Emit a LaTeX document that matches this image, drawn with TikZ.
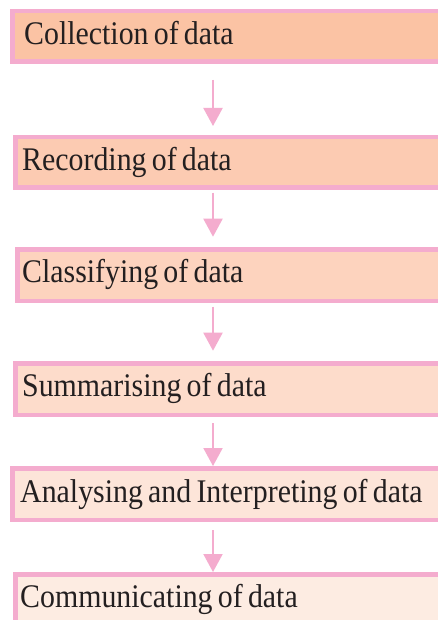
\documentclass[tikz,border=0pt]{standalone}
\usepackage{fontspec}
\setmainfont[FakeStretch=0.905,WordSpace=0.7]{Liberation Serif}
\usetikzlibrary{arrows.meta}
\definecolor{pinkline}{HTML}{F4ACCE}
\definecolor{fA}{HTML}{FBC3A4}
\definecolor{fB}{HTML}{FCCBB2}
\definecolor{fC}{HTML}{FDD3BE}
\definecolor{fD}{HTML}{FDDCCB}
\definecolor{fE}{HTML}{FDE5D9}
\definecolor{fF}{HTML}{FDECE2}
\definecolor{ink}{HTML}{231F20}
\tikzset{
  stagebox/.style={draw=pinkline, line width=4.5pt, rectangle, inner sep=0pt,
    minimum width=520pt, anchor=north west},
  stagetext/.style={anchor=base west, inner sep=0pt, text=ink,
    font=\fontsize{33}{36}\selectfont},
  flowarrow/.style={draw=pinkline, line width=2pt,
    -{Triangle[length=18pt,width=19pt]}}
}
\begin{document}
\begin{tikzpicture}[x=1pt,y=-1pt]
\useasboundingbox (0,0) rectangle (438,620);
\clip (0,0) rectangle (438,620);
\fill[white] (0,0) rectangle (438,620);
\coordinate (ax) at (213,0);

\node[stagebox, fill=fA, minimum height=50.5pt] (b1) at (10,9) {};
\node[stagebox, fill=fB, minimum height=50.5pt] (b2) at (13,135) {};
\node[stagebox, fill=fC, minimum height=51.5pt] (b3) at (15,247) {};
\node[stagebox, fill=fD, minimum height=51.5pt] (b4) at (13,361) {};
\node[stagebox, fill=fE, minimum height=51.5pt] (b5) at (10,466) {};
\node[stagebox, fill=fF, minimum height=51.5pt] (b6) at (13,572) {};

\node[stagetext] (t1) at (24,45) {Collection of data};
\node[stagetext] (t2) at (22,171) {Recording of data};
\node[stagetext] (t3) at (22,282) {Classifying of data};
\node[stagetext] (t4) at (22,396) {Summarising of data};
\node[stagetext] (t5) at (20,502) {Analysing and Interpreting of data};
\node[stagetext] (t6) at (20,607) {Communicating of data};

\draw[flowarrow, shorten <=16pt, shorten >=9pt] (b1.south -| ax) -- (b2.north -| ax);
\draw[flowarrow, shorten <=2.7pt, shorten >=10.3pt] (b2.south -| ax) -- (b3.north -| ax);
\draw[flowarrow, shorten <=3.7pt, shorten >=10.3pt] (b3.south -| ax) -- (b4.north -| ax);
\draw[flowarrow, shorten <=6.3pt, shorten >=0pt] (b4.south -| ax) -- (b5.north -| ax);
\draw[flowarrow, shorten <=8pt, shorten >=0pt] (b5.south -| ax) -- (b6.north -| ax);
\end{tikzpicture}
\end{document}
